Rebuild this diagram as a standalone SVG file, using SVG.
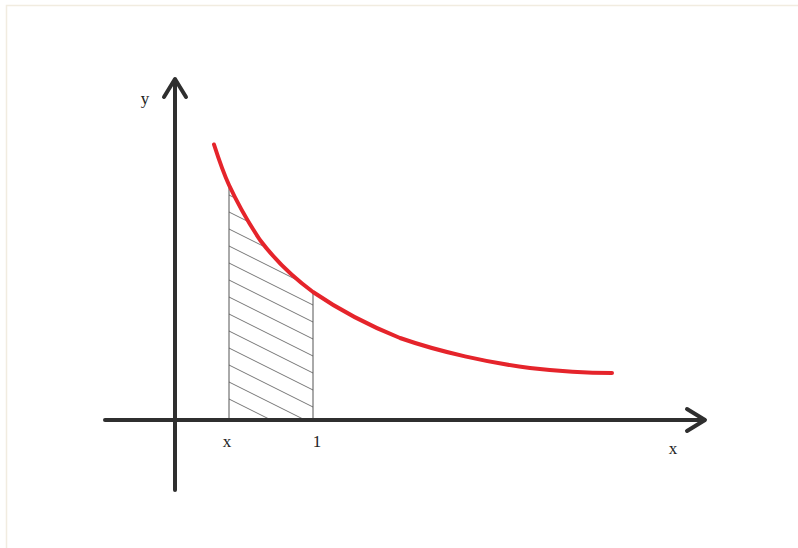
<svg xmlns="http://www.w3.org/2000/svg" width="798" height="548" viewBox="0 0 798 548">
<defs>
<style>
.axis{stroke:#2f2f2f;stroke-width:4;fill:none;stroke-linecap:round;stroke-linejoin:round}
.thin{stroke:#555;stroke-width:1;fill:none}
.hatch{stroke:#666;stroke-width:0.9}
.curve{stroke:#e5242b;stroke-width:4;fill:none;stroke-linecap:round}
.lbl{font-family:"Liberation Serif",serif;font-size:17px;fill:#222}
</style>
<clipPath id="region">
<path d="M229,185 L240,207.9 L260,240.1 L280,263.8 L300,282.2 L313,292 L313,420 L229,420 Z"/>
</clipPath>
</defs>
<rect x="0" y="0" width="798" height="548" fill="#ffffff"/>
<rect x="6.5" y="5.5" width="800" height="560" fill="none" stroke="#f1ece0" stroke-width="1.5"/>
<g id="hatched-area">
<g clip-path="url(#region)" class="hatch">
<line x1="229" y1="144" x2="313" y2="186"/>
<line x1="229" y1="161" x2="313" y2="203"/>
<line x1="229" y1="178" x2="313" y2="220"/>
<line x1="229" y1="195" x2="313" y2="237"/>
<line x1="229" y1="212" x2="313" y2="254"/>
<line x1="229" y1="229" x2="313" y2="271"/>
<line x1="229" y1="246" x2="313" y2="288"/>
<line x1="229" y1="263" x2="313" y2="305"/>
<line x1="229" y1="280" x2="313" y2="322"/>
<line x1="229" y1="297" x2="313" y2="339"/>
<line x1="229" y1="314" x2="313" y2="356"/>
<line x1="229" y1="331" x2="313" y2="373"/>
<line x1="229" y1="348" x2="313" y2="390"/>
<line x1="229" y1="365" x2="313" y2="407"/>
<line x1="229" y1="382" x2="313" y2="424"/>
<line x1="229" y1="399" x2="313" y2="441"/>
</g>
<line class="thin" x1="229" y1="185" x2="229" y2="420"/>
<line class="thin" x1="313" y1="292" x2="313" y2="420"/>
</g>
<g id="axes">
<line class="axis" x1="175" y1="490" x2="175" y2="80"/>
<polyline class="axis" points="164,97 175,79 186,97"/>
<line class="axis" x1="105" y1="420" x2="704" y2="420"/>
<polyline class="axis" points="687,409 705,420 687,431"/>
</g>
<g id="curve">
<path class="curve" d="M214,144.5 C219,160 223,172 229,185 C236,200 248,222 260,240 C272,256 290,275 313,292 C332,305 360,322 400,338 C440,352 490,363 530,368 C565,372 590,373 612,373"/>
</g>
<g id="labels">
<text class="lbl" x="145" y="104" text-anchor="middle">y</text>
<text class="lbl" x="227" y="447" text-anchor="middle">x</text>
<text class="lbl" x="317" y="447" text-anchor="middle">1</text>
<text class="lbl" x="673" y="454" text-anchor="middle">x</text>
</g>
</svg>
